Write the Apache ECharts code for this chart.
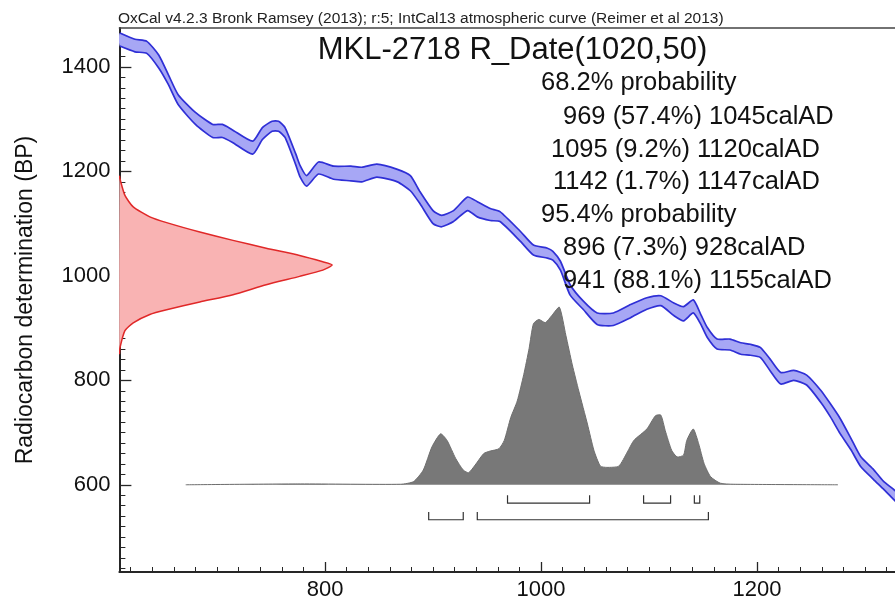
<!DOCTYPE html>
<html>
<head>
<meta charset="utf-8">
<script src="https://cdn.jsdelivr.net/npm/echarts@6/dist/echarts.min.js"></script>
<style>
html,body{margin:0;padding:0;background:#fff;}
#chart{width:895px;height:601px;}
</style>
</head>
<body>
<div id="chart"></div>
<script>
// ---- Calibration curve (IntCal13 band) ----
const calYears = [610, 624, 635, 646, 655, 664, 680, 696, 705, 714, 733, 742, 751, 757, 763, 773, 777, 783, 794, 808, 824, 834, 848, 867, 879, 888, 900, 908, 919, 932, 941, 953, 962, 981, 993, 1006, 1011, 1018, 1027, 1039, 1052, 1067, 1083, 1098, 1111, 1123, 1132, 1141, 1148, 1154, 1163, 1175, 1185, 1194, 1203, 1212, 1222, 1234, 1246, 1259, 1268, 1277, 1287, 1296, 1308, 1317, 1326, 1335];
const bpUpper = [1465, 1453, 1449, 1423, 1385, 1347, 1313, 1290, 1290, 1280, 1258, 1284, 1296, 1296, 1284, 1233, 1211, 1192, 1218, 1210, 1210, 1208, 1214, 1204, 1192, 1161, 1125, 1116, 1125, 1151, 1142, 1129, 1123, 1085, 1059, 1053, 1047, 1028, 983, 952, 929, 929, 945, 958, 962, 948, 941, 954, 926, 901, 879, 879, 872, 869, 863, 841, 815, 819, 810, 781, 755, 727, 689, 654, 629, 607, 592, 575];
const bpLower = [1440, 1429, 1426, 1398, 1366, 1328, 1290, 1265, 1265, 1256, 1233, 1261, 1277, 1277, 1265, 1212, 1189, 1172, 1195, 1185, 1182, 1180, 1189, 1180, 1163, 1138, 1100, 1094, 1104, 1125, 1113, 1106, 1104, 1066, 1040, 1034, 1030, 1011, 963, 936, 907, 905, 920, 936, 943, 924, 914, 929, 907, 882, 860, 858, 850, 848, 844, 819, 793, 800, 791, 758, 730, 698, 667, 635, 610, 592, 573, 555];

// ---- Radiocarbon date distribution R_Date(1020,50) (relative probability) ----
const rDateBP = [1192, 1185, 1154, 1132, 1113, 1102, 1084, 1068, 1053, 1039, 1027, 1021, 1011, 999, 983, 964, 950, 935, 926, 910, 895, 863, 850];
const rDateProb = [0, 0.003, 0.026, 0.065, 0.143, 0.222, 0.378, 0.534, 0.69, 0.847, 0.956, 1.0, 0.956, 0.847, 0.69, 0.534, 0.378, 0.222, 0.143, 0.065, 0.026, 0.003, 0];

// ---- Calibrated date distribution (relative probability) ----
const calDistYears = [671, 777, 870, 882, 891, 899, 907, 913, 921, 928, 933, 939, 947, 953, 961, 966, 972, 978, 984, 989, 993, 998, 1004, 1010, 1017, 1023, 1029, 1035, 1043, 1049, 1055, 1061, 1072, 1080, 1086, 1098, 1106, 1111, 1115, 1121, 1126, 1132, 1135, 1141, 1146, 1151, 1157, 1166, 1178, 1275];
const calDistProb = [0, 0.005, 0.003, 0.018, 0.083, 0.213, 0.287, 0.25, 0.148, 0.083, 0.068, 0.111, 0.176, 0.19, 0.203, 0.25, 0.379, 0.472, 0.62, 0.768, 0.907, 0.931, 0.913, 0.953, 1.0, 0.842, 0.675, 0.528, 0.342, 0.194, 0.105, 0.098, 0.105, 0.185, 0.25, 0.314, 0.389, 0.392, 0.306, 0.194, 0.157, 0.167, 0.25, 0.314, 0.231, 0.12, 0.046, 0.009, 0.003, 0];

// ---- Probability ranges ----
const range68 = [[969, 1045], [1095, 1120], [1142, 1147]];
const range95 = [[896, 928], [941, 1155]];

// ---- Ticks / text ----
const xMajorTicks = [800, 1000, 1200];
const yMajorTicks = [600, 800, 1000, 1200, 1400];
const headerText = 'OxCal v4.2.3 Bronk Ramsey (2013); r:5; IntCal13 atmospheric curve (Reimer et al 2013)';
const titleText = 'MKL-2718 R_Date(1020,50)';
const infoLines = ['68.2% probability', '969 (57.4%) 1045calAD', '1095 (9.2%) 1120calAD', '1142 (1.7%) 1147calAD', '95.4% probability', '896 (7.3%) 928calAD', '941 (88.1%) 1155calAD'];
const yAxisTitle = 'Radiocarbon determination (BP)';

// ---- layout constants ----
const X_MIN = 609.6, X_MAX = 1327.8, Y_MIN = 433, Y_MAX = 1474.6;
const FONT = '"Liberation Sans", Arial, sans-serif';
const R_AMP = 197;      // years width of peak of R_Date curve
const G_BASE = 600;     // baseline of calibrated distribution (BP units)
const G_AMP = 340;      // height of peak (BP units)

const xMinor = [], yMinor = [];
for (let v = 620; v < X_MAX; v += 20) if (xMajorTicks.indexOf(v) < 0) xMinor.push(v);
for (let v = 440; v < Y_MAX; v += 20) if (yMajorTicks.indexOf(v) < 0) yMinor.push(v);

const axisCol = '#262626';
const plainNum = function (v) { return String(v); };
function baseX(extra) {
  return Object.assign({type: 'value', min: X_MIN, max: X_MAX, splitLine: {show: false},
    axisLine: {show: false}, axisTick: {show: false}, axisLabel: {show: false}}, extra);
}
function baseY(extra) {
  return Object.assign({type: 'value', min: Y_MIN, max: Y_MAX, splitLine: {show: false},
    axisLine: {show: false}, axisTick: {show: false}, axisLabel: {show: false}}, extra);
}

const chart = echarts.init(document.getElementById('chart'), null, {renderer: 'canvas'});

function polyRender(buildPts, style, strokeStyle) {
  return function (params, api) {
    const pts = buildPts(api);
    const children = [];
    children.push({type: 'polygon', shape: {points: pts.poly, smooth: 0.2}, style: style, silent: true});
    (pts.lines || []).forEach(function (l) {
      children.push({type: 'polyline', shape: {points: l, smooth: 0.2}, style: strokeStyle, silent: true});
    });
    return {type: 'group', children: children};
  };
}

const option = {
  animation: false,
  backgroundColor: '#ffffff',
  grid: {left: 119.4, right: 0, top: 28, bottom: 24, containLabel: false},
  xAxis: [
    baseX({position: 'bottom',
      axisLine: {show: true, onZero: false, lineStyle: {color: axisCol, width: 2}},
      axisTick: {show: true, inside: true, length: 10, customValues: xMajorTicks, lineStyle: {color: axisCol, width: 1.3}},
      axisLabel: {show: true, customValues: xMajorTicks, formatter: plainNum, fontSize: 22, color: '#111', margin: 7, fontFamily: FONT}}),
    baseX({position: 'bottom',
      axisTick: {show: true, inside: true, length: 5, customValues: xMinor, lineStyle: {color: axisCol, width: 1}}}),
    baseX({position: 'top',
      axisLine: {show: true, onZero: false, lineStyle: {color: '#444', width: 1.5}}})
  ],
  yAxis: [
    baseY({position: 'left',
      axisLine: {show: true, onZero: false, lineStyle: {color: axisCol, width: 2}},
      axisTick: {show: true, inside: true, length: 12, customValues: yMajorTicks, lineStyle: {color: axisCol, width: 1.3}},
      axisLabel: {show: true, customValues: yMajorTicks, formatter: plainNum, fontSize: 22, color: '#111', margin: 9, fontFamily: FONT},
      name: yAxisTitle, nameLocation: 'middle', nameRotate: 90, nameGap: 82,
      nameTextStyle: {fontSize: 23, color: '#111', fontFamily: FONT}}),
    baseY({position: 'left',
      axisTick: {show: true, inside: true, length: 6, customValues: yMinor, lineStyle: {color: axisCol, width: 1}}})
  ],
  series: [
    {
      name: 'calibrated', type: 'custom', coordinateSystem: 'cartesian2d', clip: true, z: 2,
      data: [[calDistYears[0], G_BASE]],
      renderItem: polyRender(function (api) {
        const top = calDistYears.map(function (y, i) { return api.coord([y, G_BASE + calDistProb[i] * G_AMP]); });
        const poly = top.concat([api.coord([calDistYears[calDistYears.length - 1], G_BASE]), api.coord([calDistYears[0], G_BASE])]);
        return {poly: poly, lines: [top]};
      }, {fill: '#787878'}, {stroke: '#6e6e6e', fill: null, lineWidth: 1})
    },
    {
      name: 'ranges', type: 'custom', coordinateSystem: 'cartesian2d', clip: true, z: 3,
      data: range68.map(function (r) { return [r[0], r[1], 0]; }).concat(range95.map(function (r) { return [r[0], r[1], 1]; })),
      renderItem: function (params, api) {
        const row = api.value(2);
        const yLine = row === 0 ? 565 : 533;
        const yTop = row === 0 ? 580 : 548;
        const a = api.coord([api.value(0), yTop]);
        const b = api.coord([api.value(0), yLine]);
        const c = api.coord([api.value(1), yLine]);
        const d = api.coord([api.value(1), yTop]);
        return {type: 'polyline', shape: {points: [a, b, c, d]}, style: {stroke: '#333', fill: null, lineWidth: 1.2}, silent: true};
      }
    },
    {
      name: 'curve', type: 'custom', coordinateSystem: 'cartesian2d', clip: true, z: 4,
      data: [[calYears[0], bpUpper[0]]],
      renderItem: polyRender(function (api) {
        const up = calYears.map(function (y, i) { return api.coord([y, bpUpper[i]]); });
        const lo = calYears.map(function (y, i) { return api.coord([y, bpLower[i]]); });
        return {poly: up.concat(lo.slice().reverse()), lines: [up, lo]};
      }, {fill: '#a7a7f5'}, {stroke: '#2f2fd6', fill: null, lineWidth: 1.7})
    },
    {
      name: 'rdate', type: 'custom', coordinateSystem: 'cartesian2d', clip: true, z: 5,
      data: [[X_MIN, rDateBP[0]]],
      renderItem: polyRender(function (api) {
        const edge = rDateBP.map(function (b, i) { return api.coord([X_MIN + rDateProb[i] * R_AMP, b]); });
        return {poly: edge, lines: [edge]};
      }, {fill: '#f9b3b3'}, {stroke: '#e02828', fill: null, lineWidth: 1.5})
    }
  ],
  graphic: [
    {type: 'text', z: 100, style: {text: headerText, x: 118, y: 19, font: '15.5px ' + FONT, fill: '#222', align: 'left', textAlign: 'left', verticalAlign: 'middle', textVerticalAlign: 'middle'}},
    {type: 'text', z: 100, style: {text: titleText, x: 512.5, y: 50, font: '31px ' + FONT, fill: '#111', align: 'center', textAlign: 'center', verticalAlign: 'middle', textVerticalAlign: 'middle'}}
  ]
};

const infoX = [541, 563, 551, 553, 541, 563, 563];
const infoY = [83, 117, 150, 182, 215, 248, 281];
infoLines.forEach(function (t, i) {
  option.graphic.push({type: 'text', z: 100, style: {text: t, x: infoX[i], y: infoY[i], font: '25.5px ' + FONT, fill: '#111', align: 'left', textAlign: 'left', verticalAlign: 'middle', textVerticalAlign: 'middle'}});
});

chart.setOption(option);
</script>
</body>
</html>
